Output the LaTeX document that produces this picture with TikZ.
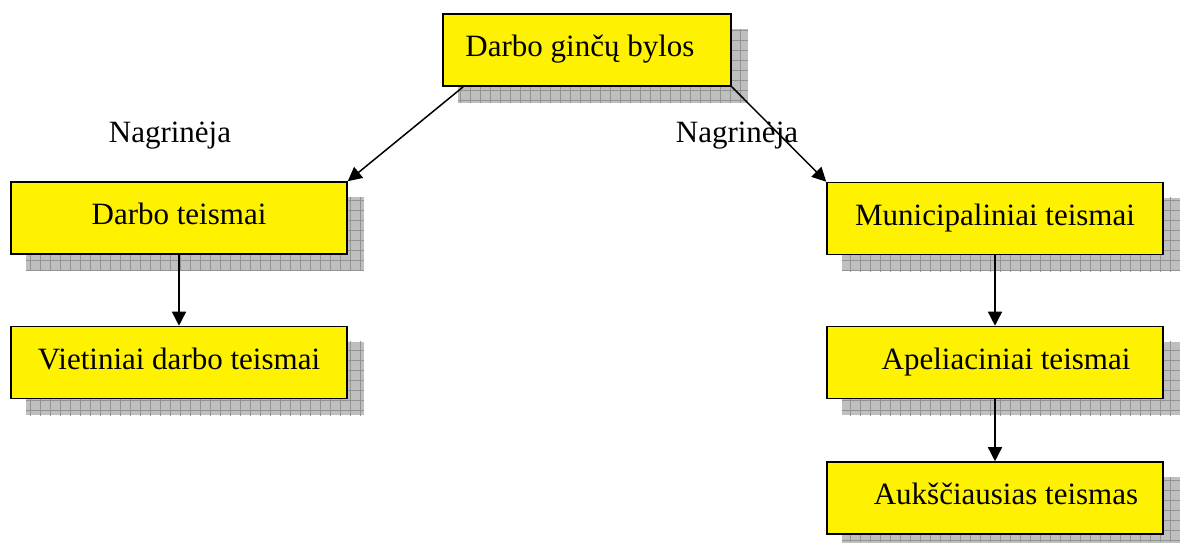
\documentclass[tikz,border=0pt]{standalone}
\usepackage{fontspec}
\setmainfont{Liberation Serif}
\usetikzlibrary{arrows.meta,calc,backgrounds}
\tikzset{
  box/.style={draw=black, line width=1.6pt, fill=yellow, minimum width=336pt,
    minimum height=72pt, inner sep=0pt, font=\fontsize{31}{36}\selectfont,
    text height=21.7pt, text depth=7.75pt},
  lbl/.style={font=\fontsize{31}{36}\selectfont, inner sep=0pt, anchor=base},
  arr/.style={line width=1.5pt, -{Triangle[length=14pt,width=14pt]}},
  shadowfill/.style={fill=gray!50},
  shadowgrid/.style={draw=gray!85, line width=0.6pt}
}
\newcommand{\boxshadow}[1]{%
  \begin{scope}
    \path[shadowfill] ($(#1.north west)+(16,16)$) rectangle ($(#1.south east)+(16,16)$);
    \clip ($(#1.north west)+(16,16)$) rectangle ($(#1.south east)+(16,16)$);
    \draw[shadowgrid, step=10pt] (0,0) grid (1191pt,-542pt);
  \end{scope}}
\begin{document}
\begin{tikzpicture}[x=1pt,y=-1pt]
\useasboundingbox (0,0) rectangle (1191,542);
\node[box, minimum width=288pt] (top) at (587,50) {Darbo ginčų bylos\hspace*{14pt}};
\node[box] (darbo) at (179,218) {Darbo teismai};
\node[box] (viet) at (179,362.5) {Vietiniai darbo teismai};
\node[box] (muni) at (995,218.5) {Municipaliniai teismai};
\node[box] (apel) at (995,362.5) {\hspace*{22pt}Apeliaciniai teismai};
\node[box] (auks) at (995,498) {\hspace*{22pt}Aukščiausias teismas};
\begin{pgfonlayer}{background}
  \boxshadow{top}
  \boxshadow{darbo}
  \boxshadow{viet}
  \boxshadow{muni}
  \boxshadow{apel}
  \boxshadow{auks}
\end{pgfonlayer}
\node[lbl] (nagL) at (170,142) {Nagrinėja};
\node[lbl] (nagR) at (737,142) {Nagrinėja};
\draw[arr] ($(top.south west)+(21,0)$) -- (darbo.north east);
\draw[arr] (top.south east) -- (muni.north west);
\draw[arr] (darbo.south) -- (viet.north);
\draw[arr] (muni.south) -- (apel.north);
\draw[arr] (apel.south) -- (auks.north);
\end{tikzpicture}
\end{document}
